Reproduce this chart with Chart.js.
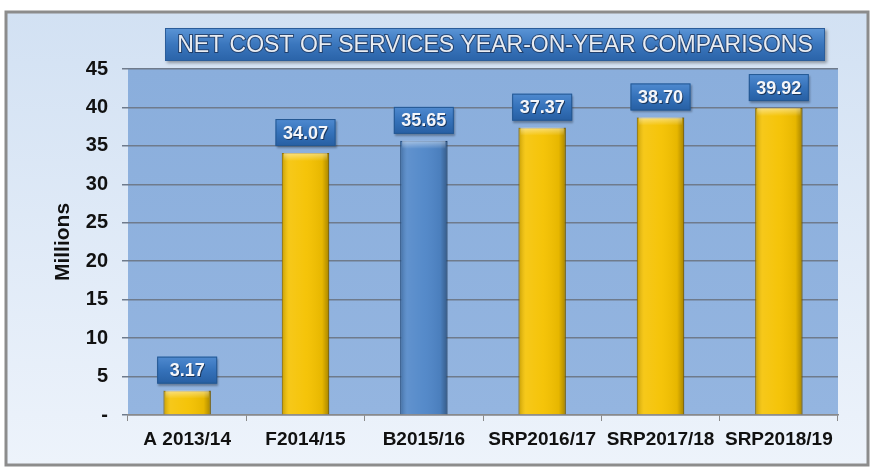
<!DOCTYPE html>
<html lang="en">
<head>
    <meta charset="UTF-8">
    <title>Net Cost of Services</title>
    <script src="https://cdn.jsdelivr.net/npm/chart.js@4/dist/chart.umd.min.js"></script>
    <style>
        html, body { margin: 0; padding: 0; background: #fff; }
        #wrap { width: 873px; height: 471px; }
    </style>
</head>
<body>
<div id="wrap"><canvas id="myChart" width="873" height="471"></canvas></div>
<script>
    // data (millions)
    const categories = ['A 2013/14', 'F2014/15', 'B2015/16', 'SRP2016/17', 'SRP2017/18', 'SRP2018/19'];
    const netCost = [3.17, 34.07, 35.65, 37.37, 38.70, 39.92];
    const yTicks = [0, 5, 10, 15, 20, 25, 30, 35, 40, 45];
    const chartTitle = 'NET COST OF SERVICES YEAR-ON-YEAR COMPARISONS';

    const yellow = '#f5c200';
    const blue = '#4f86c8';
    const barColors = categories.map((c, i) => i === 2 ? blue : yellow);
    const barEdges = categories.map((c, i) => i === 2 ? '#2d5f9c' : '#b08800');

    // frame, background and plot area
    const backdrop = {
        id: 'backdrop',
        beforeDraw(chart) {
            const ctx = chart.ctx, a = chart.chartArea;
            ctx.save();
            ctx.fillStyle = '#ffffff';
            ctx.fillRect(0, 0, chart.width, chart.height);
            const g = ctx.createLinearGradient(0, 12, 0, 465);
            g.addColorStop(0, '#d2e1f3');
            g.addColorStop(1, '#edf3fb');
            ctx.fillStyle = g;
            ctx.fillRect(6, 12, 862, 453);
            ctx.strokeStyle = '#8c8c8c';
            ctx.lineWidth = 3;
            ctx.strokeRect(6, 12, 862, 453);
            const p = ctx.createLinearGradient(0, a.top, 0, a.bottom);
            p.addColorStop(0, '#8aaedc');
            p.addColorStop(1, '#94b5e0');
            ctx.fillStyle = p;
            ctx.fillRect(a.left, a.top, a.right - a.left, a.bottom - a.top);
            ctx.restore();
        }
    };

    // title box
    const titleBox = {
        id: 'titleBox',
        afterDraw(chart) {
            const ctx = chart.ctx;
            const x0 = 165, y0 = 28, w = 660, h = 33;
            ctx.save();
            ctx.shadowColor = 'rgba(0,0,0,0.35)';
            ctx.shadowOffsetX = 2;
            ctx.shadowOffsetY = 2;
            ctx.shadowBlur = 3;
            const g = ctx.createLinearGradient(0, y0, 0, y0 + h);
            g.addColorStop(0, '#5b95d6');
            g.addColorStop(0.5, '#3a76bd');
            g.addColorStop(1, '#2a63a8');
            ctx.fillStyle = g;
            ctx.fillRect(x0, y0, w, h);
            ctx.shadowColor = 'transparent';
            ctx.strokeStyle = '#2b5d9a';
            ctx.lineWidth = 1;
            ctx.strokeRect(x0 + 0.5, y0 + 0.5, w - 1, h - 1);
            let size = 24;
            ctx.font = size + 'px "Liberation Sans", Arial, sans-serif';
            while (ctx.measureText(chartTitle).width > 640 && size > 10) {
                size -= 0.5;
                ctx.font = size + 'px "Liberation Sans", Arial, sans-serif';
            }
            ctx.textAlign = 'center';
            ctx.textBaseline = 'middle';
            ctx.lineWidth = 2;
            ctx.strokeStyle = 'rgba(25,45,80,0.7)';
            ctx.strokeText(chartTitle, x0 + w / 2, y0 + h / 2 + 1);
            ctx.fillStyle = '#e8ecf2';
            ctx.fillText(chartTitle, x0 + w / 2, y0 + h / 2 + 1);
            ctx.restore();
        }
    };

    // bevel shading on the bars and value boxes above them
    const barDecor = {
        id: 'barDecor',
        afterDatasetsDraw(chart) {
            const ctx = chart.ctx;
            const meta = chart.getDatasetMeta(0);
            ctx.save();
            meta.data.forEach((el, i) => {
                const left = el.x - el.width / 2, right = el.x + el.width / 2;
                const top = el.y, bottom = el.base;
                const g = ctx.createLinearGradient(left, 0, right, 0);
                g.addColorStop(0, 'rgba(0,0,0,0.2)');
                g.addColorStop(0.15, 'rgba(255,255,255,0.1)');
                g.addColorStop(0.5, 'rgba(255,255,255,0.04)');
                g.addColorStop(0.85, 'rgba(0,0,0,0.06)');
                g.addColorStop(1, 'rgba(0,0,0,0.32)');
                ctx.fillStyle = g;
                ctx.fillRect(left, top, right - left, bottom - top);
                const bh = Math.min(8, (bottom - top) / 2);
                const t = ctx.createLinearGradient(0, top, 0, top + bh);
                t.addColorStop(0, 'rgba(255,255,255,0.45)');
                t.addColorStop(1, 'rgba(255,255,255,0)');
                ctx.fillStyle = t;
                ctx.fillRect(left + 2, top, right - left - 4, bh);

                // value box
                const bw = 60, bhh = 27;
                let by = top - 7 - bhh;
                if (by < 73) by = 73;
                const bx = el.x - bw / 2;
                ctx.shadowColor = 'rgba(0,0,0,0.3)';
                ctx.shadowOffsetX = 1;
                ctx.shadowOffsetY = 2;
                ctx.shadowBlur = 2;
                const bg = ctx.createLinearGradient(0, by, 0, by + bhh);
                bg.addColorStop(0, '#4f8ad0');
                bg.addColorStop(0.5, '#3572ba');
                bg.addColorStop(1, '#275fa3');
                ctx.fillStyle = bg;
                ctx.fillRect(bx, by, bw, bhh);
                ctx.shadowColor = 'transparent';
                ctx.strokeStyle = '#245892';
                ctx.lineWidth = 1;
                ctx.strokeRect(bx + 0.5, by + 0.5, bw - 1, bhh - 1);
                ctx.font = 'bold 18px "Liberation Sans", Arial, sans-serif';
                ctx.textAlign = 'center';
                ctx.textBaseline = 'middle';
                ctx.fillStyle = 'rgba(20,40,70,0.8)';
                ctx.fillText(netCost[i].toFixed(2), el.x + 1, by + bhh / 2 + 2);
                ctx.fillStyle = '#f4f6fa';
                ctx.fillText(netCost[i].toFixed(2), el.x, by + bhh / 2 + 1);
            });
            ctx.restore();
        }
    };

    Chart.defaults.font.family = '"Liberation Sans", Arial, sans-serif';

    new Chart('myChart', {
        type: 'bar',
        data: {
            labels: categories,
            datasets: [{
                data: netCost,
                backgroundColor: barColors,
                borderColor: barEdges,
                borderWidth: 1,
                barPercentage: 0.4,
                categoryPercentage: 1.0
            }]
        },
        options: {
            responsive: false,
            animation: false,
            layout: { padding: { left: 40, top: 69, right: 35, bottom: 16 } },
            plugins: {
                legend: { display: false },
                tooltip: { enabled: false }
            },
            scales: {
                x: {
                    grid: {
                        offset: true,
                        drawOnChartArea: false,
                        drawTicks: true,
                        tickLength: 6,
                        color: '#8a8a8a'
                    },
                    border: { color: '#8a8a8a', width: 1.5 },
                    ticks: {
                        color: '#111',
                        padding: 7,
                        maxRotation: 0,
                        autoSkip: false,
                        font: { size: 19, weight: 'bold' }
                    },
                    afterFit(scale) { scale.height = 40; }
                },
                y: {
                    min: 0,
                    max: 45,
                    afterBuildTicks(scale) { scale.ticks = yTicks.map(v => ({ value: v })); },
                    grid: {
                        color: '#6f7b8c',
                        lineWidth: 1.5,
                        tickLength: 6
                    },
                    border: { display: false },
                    ticks: {
                        color: '#111',
                        padding: 14,
                        font: { size: 20, weight: 'bold' },
                        callback: v => v === 0 ? '-' : v
                    },
                    title: {
                        display: true,
                        text: 'Millions',
                        color: '#111',
                        padding: { top: 11, bottom: 0 },
                        font: { size: 21, weight: 'bold' }
                    },
                    afterFit(scale) { scale.width = 88; }
                }
            }
        },
        plugins: [backdrop, barDecor, titleBox]
    });
</script>
</body>
</html>
